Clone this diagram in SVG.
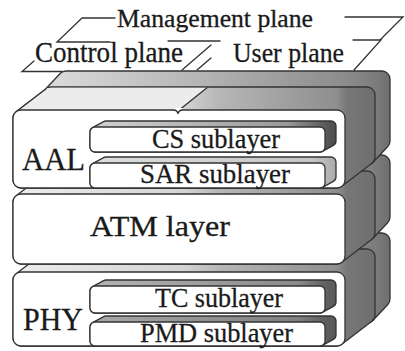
<svg xmlns="http://www.w3.org/2000/svg" width="405" height="351" viewBox="0 0 405 351">
<style>
.edge{fill:none;stroke:#333;stroke-width:1.3;stroke-linecap:round}
.front{fill:#fff;stroke:#333;stroke-width:1.3}
.sil{stroke:#333;stroke-width:1.3;stroke-linejoin:round}
.lbl{font-family:"Liberation Serif","Times New Roman",serif;fill:#1a1a1a;stroke:#1a1a1a;stroke-width:0.3}
</style>
<defs>
<linearGradient id="gFront" gradientUnits="userSpaceOnUse" x1="13" y1="0" x2="390" y2="0">
<stop offset="0" stop-color="#ededed"/><stop offset="0.45" stop-color="#d4d4d4"/><stop offset="0.55" stop-color="#b6b6b6"/><stop offset="0.86" stop-color="#8e8e8e"/><stop offset="0.885" stop-color="#777"/><stop offset="1" stop-color="#6a6a6a"/>
</linearGradient>
<linearGradient id="gBack" gradientUnits="userSpaceOnUse" x1="13" y1="0" x2="390" y2="0">
<stop offset="0" stop-color="#e4e4e4"/><stop offset="0.5" stop-color="#b4b4b4"/><stop offset="0.88" stop-color="#8c8c8c"/><stop offset="0.96" stop-color="#7c7c7c"/><stop offset="1" stop-color="#6e6e6e"/>
</linearGradient>
<linearGradient id="gCS" gradientUnits="userSpaceOnUse" x1="90" y1="0" x2="336" y2="0">
<stop offset="0" stop-color="#d2d2d2"/><stop offset="0.8" stop-color="#9a9a9a"/><stop offset="0.955" stop-color="#5a5a5a"/><stop offset="1" stop-color="#4c4c4c"/>
</linearGradient>
<linearGradient id="gSAR" gradientUnits="userSpaceOnUse" x1="90" y1="0" x2="336" y2="0">
<stop offset="0" stop-color="#dedede"/><stop offset="0.9" stop-color="#c6c6c6"/><stop offset="0.955" stop-color="#b8b8b8"/><stop offset="1" stop-color="#aaa"/>
</linearGradient>
<linearGradient id="gTC" gradientUnits="userSpaceOnUse" x1="90" y1="0" x2="336" y2="0">
<stop offset="0" stop-color="#b4b4b4"/><stop offset="0.85" stop-color="#8a8a8a"/><stop offset="0.955" stop-color="#626262"/><stop offset="1" stop-color="#5a5a5a"/>
</linearGradient>
<linearGradient id="gPMD" gradientUnits="userSpaceOnUse" x1="90" y1="0" x2="336" y2="0">
<stop offset="0" stop-color="#a8a8a8"/><stop offset="0.85" stop-color="#808080"/><stop offset="0.955" stop-color="#5e5e5e"/><stop offset="1" stop-color="#585858"/>
</linearGradient>
</defs>
<rect width="405" height="351" fill="#fff"/>

<!-- Planes -->
<g id="plane-management">
<path class="edge" d="M82,18 H115 M82,18 L57,42 H110 M345,17 H403 L380,40"/>
<text class="lbl" x="117" y="27" font-size="25" textLength="196" lengthAdjust="spacingAndGlyphs">Management plane</text>
</g>
<g id="plane-control">
<path class="edge" d="M168,41 H220 M211,45 L182,70 M34,61 L22,71.5 H62"/>
<text class="lbl" x="35" y="62" font-size="29" textLength="148" lengthAdjust="spacingAndGlyphs">Control plane</text>
</g>
<g id="plane-user">
<path class="edge" d="M353,40 H381 L354,70 M211,58 L197,70"/>
<text class="lbl" x="233" y="62" font-size="28" textLength="111" lengthAdjust="spacingAndGlyphs">User plane</text>
</g>

<!-- PHY layer -->
<g id="layer-phy">
<path class="sil" fill="url(#gBack)" d="M45.16,251.53 L60.16,235.53 A8,8 0 0 1 66,233 H382 A8,8 0 0 1 390,241 V299 A8,8 0 0 1 387.84,304.47 L372.84,320.47 A8,8 0 0 1 367,323 H51 A8,8 0 0 1 43,315 V257 A8,8 0 0 1 45.16,251.53 Z"/>
<path class="sil" fill="url(#gFront)" d="M16.13,273.65 L46.13,250.65 A8,8 0 0 1 51,249 H367 A8,8 0 0 1 375,257 V315 A8,8 0 0 1 371.87,321.35 L341.87,344.35 A8,8 0 0 1 337,346 H21 A8,8 0 0 1 13,338 V280 A8,8 0 0 1 16.13,273.65 Z"/>
<rect class="front" x="13" y="272" width="332" height="74" rx="8"/>
<text class="lbl" x="23" y="330" font-size="32" textLength="60" lengthAdjust="spacingAndGlyphs">PHY</text>
</g>
<g id="sub-tc">
<path class="sil" fill="url(#gTC)" d="M92.61,286.61 L103.61,280.61 A5,5 0 0 1 106,280 H331 A5,5 0 0 1 336,285 V302 A5,5 0 0 1 333.39,306.39 L322.39,312.39 A5,5 0 0 1 320,313 H95 A5,5 0 0 1 90,308 V291 A5,5 0 0 1 92.61,286.61 Z"/>
<rect class="front" x="90" y="286" width="235" height="27" rx="5"/>
<text class="lbl" x="155" y="307" font-size="26.5" textLength="128" lengthAdjust="spacingAndGlyphs">TC sublayer</text>
</g>
<g id="sub-pmd">
<path class="sil" fill="url(#gPMD)" d="M92.61,322.61 L103.61,316.61 A5,5 0 0 1 106,316 H331 A5,5 0 0 1 336,321 V335 A5,5 0 0 1 333.39,339.39 L322.39,345.39 A5,5 0 0 1 320,346 H95 A5,5 0 0 1 90,341 V327 A5,5 0 0 1 92.61,322.61 Z"/>
<rect class="front" x="90" y="322" width="235" height="24" rx="5"/>
<text class="lbl" x="140" y="342" font-size="27" textLength="153" lengthAdjust="spacingAndGlyphs">PMD sublayer</text>
</g>

<!-- ATM layer -->
<g id="layer-atm">
<path class="sil" fill="url(#gBack)" d="M45.16,173.53 L60.16,157.53 A8,8 0 0 1 66,155 H382 A8,8 0 0 1 390,163 V217 A8,8 0 0 1 387.84,222.47 L372.84,238.47 A8,8 0 0 1 367,241 H51 A8,8 0 0 1 43,233 V179 A8,8 0 0 1 45.16,173.53 Z"/>
<path class="sil" fill="url(#gFront)" d="M16.13,195.65 L46.13,172.65 A8,8 0 0 1 51,171 H367 A8,8 0 0 1 375,179 V233 A8,8 0 0 1 371.87,239.35 L341.87,262.35 A8,8 0 0 1 337,264 H21 A8,8 0 0 1 13,256 V202 A8,8 0 0 1 16.13,195.65 Z"/>
<rect class="front" x="13" y="194" width="332" height="70" rx="8"/>
<text class="lbl" x="90" y="236" font-size="29" textLength="140" lengthAdjust="spacingAndGlyphs">ATM layer</text>
</g>

<!-- AAL layer -->
<g id="layer-aal">
<path class="sil" fill="url(#gBack)" d="M45.16,89.53 L60.16,73.53 A8,8 0 0 1 66,71 H382 A8,8 0 0 1 390,79 V141 A8,8 0 0 1 387.84,146.47 L372.84,162.47 A8,8 0 0 1 367,165 H51 A8,8 0 0 1 43,157 V95 A8,8 0 0 1 45.16,89.53 Z" stroke-width="1.8"/>
<path class="sil" fill="url(#gFront)" d="M16.13,111.65 L46.13,88.65 A8,8 0 0 1 51,87 H367 A8,8 0 0 1 375,95 V157 A8,8 0 0 1 371.87,163.35 L341.87,186.35 A8,8 0 0 1 337,188 H21 A8,8 0 0 1 13,180 V118 A8,8 0 0 1 16.13,111.65 Z"/>
<polygon points="17,111 46.5,88.3 51,87.7 207,87.7 178,110.5 21,110.5" fill="#ececec"/>
<path class="edge" d="M16.13,111.65 L46.13,88.65 M178,111 L207,87.7"/>
<rect class="front" x="13" y="110" width="332" height="78" rx="8"/>
<rect x="173.5" y="108" width="9" height="4" fill="#fff"/>
<path class="edge" d="M173.5,110 Q177.5,110.2 178,114 Q178.5,110.2 182.5,110"/>
<text class="lbl" x="22" y="170" font-size="32" textLength="63" lengthAdjust="spacingAndGlyphs">AAL</text>
</g>
<g id="sub-cs">
<path class="sil" fill="url(#gCS)" d="M92.61,127.61 L103.61,121.61 A5,5 0 0 1 106,121 H331 A5,5 0 0 1 336,126 V141 A5,5 0 0 1 333.39,145.39 L322.39,151.39 A5,5 0 0 1 320,152 H95 A5,5 0 0 1 90,147 V132 A5,5 0 0 1 92.61,127.61 Z"/>
<rect class="front" x="90" y="127" width="235" height="25" rx="5"/>
<text class="lbl" x="152" y="148" font-size="26.5" textLength="128" lengthAdjust="spacingAndGlyphs">CS sublayer</text>
</g>
<g id="sub-sar">
<path class="sil" fill="url(#gSAR)" d="M92.61,163.61 L103.61,157.61 A5,5 0 0 1 106,157 H331 A5,5 0 0 1 336,162 V177 A5,5 0 0 1 333.39,181.39 L322.39,187.39 A5,5 0 0 1 320,188 H95 A5,5 0 0 1 90,183 V168 A5,5 0 0 1 92.61,163.61 Z"/>
<rect class="front" x="90" y="163" width="235" height="25" rx="5"/>
<text class="lbl" x="140" y="183" font-size="27" textLength="150" lengthAdjust="spacingAndGlyphs">SAR sublayer</text>
</g>
</svg>
